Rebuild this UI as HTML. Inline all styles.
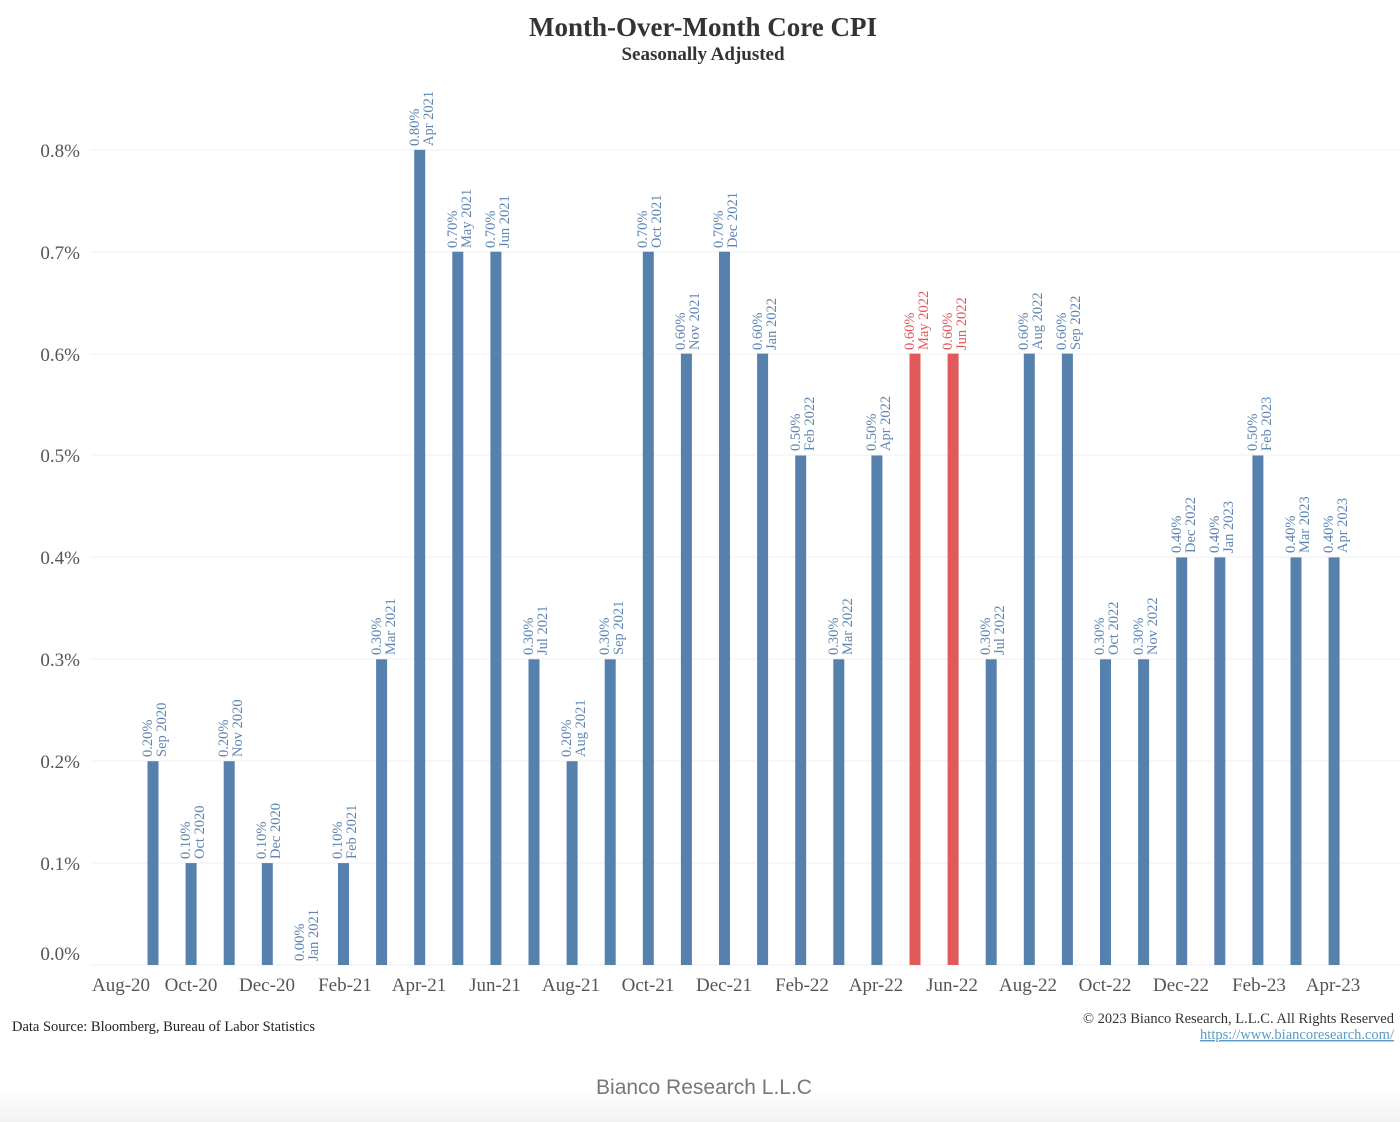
<!DOCTYPE html>
<html><head><meta charset="utf-8"><style>
body{margin:0;background:#fff;}
svg{display:block;font-family:"Liberation Serif",serif;}
.b{fill:#5781ad}.r{fill:#e05a5c}
.l{fill:#5f86b3;font-size:14.5px}.lr{fill:#e05a5c;font-size:14.5px}
.ax{fill:#555;font-size:19px}
.g{stroke:#efefef;stroke-width:1}
</style></head><body>
<svg width="1400" height="1122" viewBox="0 0 1400 1122">
<defs><linearGradient id="fg" x1="0" y1="0" x2="0" y2="1"><stop offset="0" stop-color="#fff"/><stop offset="1" stop-color="#f2f2f2"/></linearGradient></defs>
<rect x="0" y="1090" width="1400" height="32" fill="url(#fg)"/>
<text x="703" y="36" text-anchor="middle" font-size="27" font-weight="bold" fill="#333">Month-Over-Month Core CPI</text>
<text x="703" y="60" text-anchor="middle" font-size="19" font-weight="bold" fill="#333">Seasonally Adjusted</text>
<g class="g">
<line x1="90" x2="1400" y1="150" y2="150"/><line x1="90" x2="1400" y1="252" y2="252"/><line x1="90" x2="1400" y1="354" y2="354"/><line x1="90" x2="1400" y1="455" y2="455"/><line x1="90" x2="1400" y1="557" y2="557"/><line x1="90" x2="1400" y1="659" y2="659"/><line x1="90" x2="1400" y1="761" y2="761"/><line x1="90" x2="1400" y1="863" y2="863"/><line x1="90" x2="1400" y1="965" y2="965"/>
</g>
<g class="ax" text-anchor="end">
<text x="80" y="157">0.8%</text><text x="80" y="259">0.7%</text><text x="80" y="361">0.6%</text><text x="80" y="462">0.5%</text><text x="80" y="564">0.4%</text><text x="80" y="666">0.3%</text><text x="80" y="768">0.2%</text><text x="80" y="870">0.1%</text><text x="80" y="960">0.0%</text>
</g>
<g class="ax" text-anchor="middle">
<text x="121" y="991">Aug-20</text><text x="191" y="991">Oct-20</text><text x="267" y="991">Dec-20</text><text x="345" y="991">Feb-21</text><text x="419" y="991">Apr-21</text><text x="495" y="991">Jun-21</text><text x="571" y="991">Aug-21</text><text x="648" y="991">Oct-21</text><text x="724" y="991">Dec-21</text><text x="802" y="991">Feb-22</text><text x="876" y="991">Apr-22</text><text x="952" y="991">Jun-22</text><text x="1028" y="991">Aug-22</text><text x="1105" y="991">Oct-22</text><text x="1181" y="991">Dec-22</text><text x="1259" y="991">Feb-23</text><text x="1333" y="991">Apr-23</text>
</g>
<g class="b">
<rect x="147.5" y="761.2" width="11" height="203.8"/>
<rect x="185.6" y="863.1" width="11" height="101.9"/>
<rect x="223.7" y="761.2" width="11" height="203.8"/>
<rect x="261.8" y="863.1" width="11" height="101.9"/>
<rect x="338" y="863.1" width="11" height="101.9"/>
<rect x="376.1" y="659.3" width="11" height="305.7"/>
<rect x="414.2" y="149.8" width="11" height="815.2"/>
<rect x="452.3" y="251.7" width="11" height="713.3"/>
<rect x="490.4" y="251.7" width="11" height="713.3"/>
<rect x="528.5" y="659.3" width="11" height="305.7"/>
<rect x="566.6" y="761.2" width="11" height="203.8"/>
<rect x="604.7" y="659.3" width="11" height="305.7"/>
<rect x="642.8" y="251.7" width="11" height="713.3"/>
<rect x="680.9" y="353.6" width="11" height="611.4"/>
<rect x="719" y="251.7" width="11" height="713.3"/>
<rect x="757.1" y="353.6" width="11" height="611.4"/>
<rect x="795.2" y="455.5" width="11" height="509.5"/>
<rect x="833.3" y="659.3" width="11" height="305.7"/>
<rect x="871.4" y="455.5" width="11" height="509.5"/>
<rect x="985.7" y="659.3" width="11" height="305.7"/>
<rect x="1023.8" y="353.6" width="11" height="611.4"/>
<rect x="1061.9" y="353.6" width="11" height="611.4"/>
<rect x="1100" y="659.3" width="11" height="305.7"/>
<rect x="1138.1" y="659.3" width="11" height="305.7"/>
<rect x="1176.2" y="557.4" width="11" height="407.6"/>
<rect x="1214.3" y="557.4" width="11" height="407.6"/>
<rect x="1252.4" y="455.5" width="11" height="509.5"/>
<rect x="1290.5" y="557.4" width="11" height="407.6"/>
<rect x="1328.6" y="557.4" width="11" height="407.6"/>
</g>
<g class="r">
<rect x="909.5" y="353.6" width="11" height="611.4"/>
<rect x="947.6" y="353.6" width="11" height="611.4"/>
</g>
<g class="l">
<text transform="translate(152,757) rotate(-90)">0.20%</text><text transform="translate(166,757) rotate(-90)">Sep 2020</text>
<text transform="translate(190,859) rotate(-90)">0.10%</text><text transform="translate(204,859) rotate(-90)">Oct 2020</text>
<text transform="translate(228,757) rotate(-90)">0.20%</text><text transform="translate(242,757) rotate(-90)">Nov 2020</text>
<text transform="translate(266,859) rotate(-90)">0.10%</text><text transform="translate(280,859) rotate(-90)">Dec 2020</text>
<text transform="translate(304,961) rotate(-90)">0.00%</text><text transform="translate(318,961) rotate(-90)">Jan 2021</text>
<text transform="translate(342,859) rotate(-90)">0.10%</text><text transform="translate(356,859) rotate(-90)">Feb 2021</text>
<text transform="translate(381,655) rotate(-90)">0.30%</text><text transform="translate(395,655) rotate(-90)">Mar 2021</text>
<text transform="translate(419,146) rotate(-90)">0.80%</text><text transform="translate(433,146) rotate(-90)">Apr 2021</text>
<text transform="translate(457,248) rotate(-90)">0.70%</text><text transform="translate(471,248) rotate(-90)">May 2021</text>
<text transform="translate(495,248) rotate(-90)">0.70%</text><text transform="translate(509,248) rotate(-90)">Jun 2021</text>
<text transform="translate(533,655) rotate(-90)">0.30%</text><text transform="translate(547,655) rotate(-90)">Jul 2021</text>
<text transform="translate(571,757) rotate(-90)">0.20%</text><text transform="translate(585,757) rotate(-90)">Aug 2021</text>
<text transform="translate(609,655) rotate(-90)">0.30%</text><text transform="translate(623,655) rotate(-90)">Sep 2021</text>
<text transform="translate(647,248) rotate(-90)">0.70%</text><text transform="translate(661,248) rotate(-90)">Oct 2021</text>
<text transform="translate(685,350) rotate(-90)">0.60%</text><text transform="translate(699,350) rotate(-90)">Nov 2021</text>
<text transform="translate(723,248) rotate(-90)">0.70%</text><text transform="translate(737,248) rotate(-90)">Dec 2021</text>
<text transform="translate(762,350) rotate(-90)">0.60%</text><text transform="translate(776,350) rotate(-90)">Jan 2022</text>
<text transform="translate(800,451) rotate(-90)">0.50%</text><text transform="translate(814,451) rotate(-90)">Feb 2022</text>
<text transform="translate(838,655) rotate(-90)">0.30%</text><text transform="translate(852,655) rotate(-90)">Mar 2022</text>
<text transform="translate(876,451) rotate(-90)">0.50%</text><text transform="translate(890,451) rotate(-90)">Apr 2022</text>
<text transform="translate(990,655) rotate(-90)">0.30%</text><text transform="translate(1004,655) rotate(-90)">Jul 2022</text>
<text transform="translate(1028,350) rotate(-90)">0.60%</text><text transform="translate(1042,350) rotate(-90)">Aug 2022</text>
<text transform="translate(1066,350) rotate(-90)">0.60%</text><text transform="translate(1080,350) rotate(-90)">Sep 2022</text>
<text transform="translate(1104,655) rotate(-90)">0.30%</text><text transform="translate(1118,655) rotate(-90)">Oct 2022</text>
<text transform="translate(1143,655) rotate(-90)">0.30%</text><text transform="translate(1157,655) rotate(-90)">Nov 2022</text>
<text transform="translate(1181,553) rotate(-90)">0.40%</text><text transform="translate(1195,553) rotate(-90)">Dec 2022</text>
<text transform="translate(1219,553) rotate(-90)">0.40%</text><text transform="translate(1233,553) rotate(-90)">Jan 2023</text>
<text transform="translate(1257,451) rotate(-90)">0.50%</text><text transform="translate(1271,451) rotate(-90)">Feb 2023</text>
<text transform="translate(1295,553) rotate(-90)">0.40%</text><text transform="translate(1309,553) rotate(-90)">Mar 2023</text>
<text transform="translate(1333,553) rotate(-90)">0.40%</text><text transform="translate(1347,553) rotate(-90)">Apr 2023</text>
</g>
<g class="lr">
<text transform="translate(914,350) rotate(-90)">0.60%</text><text transform="translate(928,350) rotate(-90)">May 2022</text>
<text transform="translate(952,350) rotate(-90)">0.60%</text><text transform="translate(966,350) rotate(-90)">Jun 2022</text>
</g>
<text x="12" y="1031" font-size="14.5" fill="#222">Data Source: Bloomberg, Bureau of Labor Statistics</text>
<text x="1394" y="1023" text-anchor="end" font-size="14.5" fill="#333">© 2023 Bianco Research, L.L.C. All Rights Reserved</text>
<text x="1394" y="1039" text-anchor="end" font-size="14.5" fill="#5a9bc4" text-decoration="underline">https://www.biancoresearch.com/</text>
<text x="704" y="1094" text-anchor="middle" font-family="Liberation Sans, sans-serif" font-size="21" fill="#777">Bianco Research L.L.C</text>
</svg>
</body></html>
